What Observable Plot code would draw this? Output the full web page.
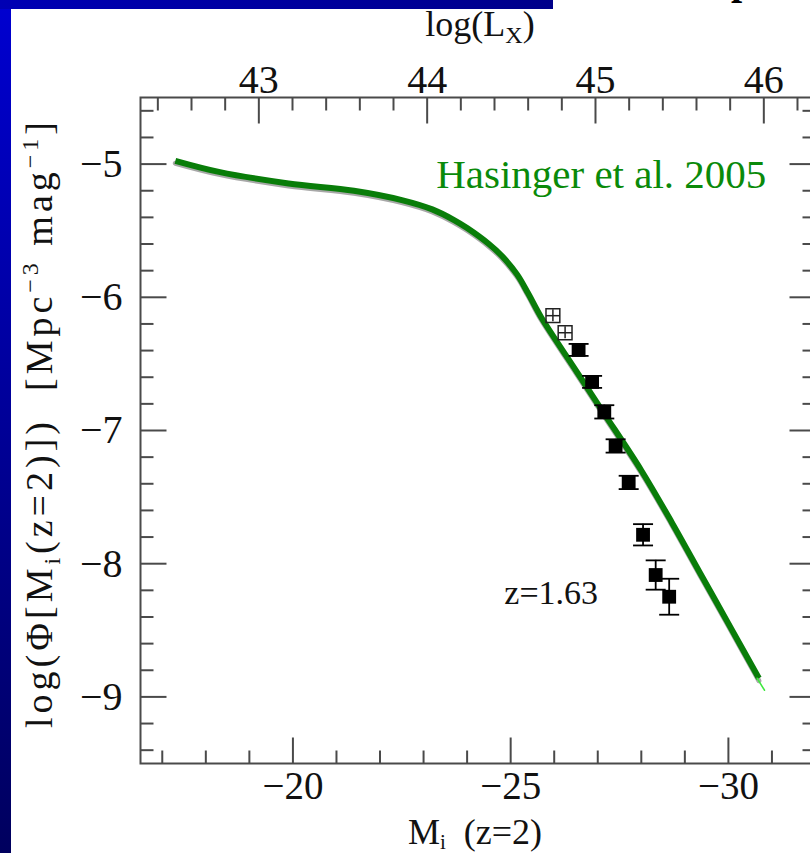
<!DOCTYPE html>
<html><head><meta charset="utf-8">
<script src="https://cdn.jsdelivr.net/npm/d3@7"></script>
<script src="https://cdn.jsdelivr.net/npm/@observablehq/plot@0.6"></script>
<style>
html,body{margin:0;padding:0;background:#fff;}
#wrap{position:relative;width:810px;height:853px;overflow:hidden;background:#fff;}
#wrap svg{position:absolute;left:0;top:0;max-width:none !important;background:transparent !important;}
#leftbar{position:absolute;left:0;top:0;width:11px;height:853px;background:linear-gradient(#0000d0,#00005e);z-index:5;}
#topbar{position:absolute;left:0;top:0;width:553px;height:9px;background:linear-gradient(90deg,#0000b4,#00008a);z-index:5;}
#cut{position:absolute;left:731px;top:-39px;font:bold 40px 'Liberation Serif',serif;color:#000;z-index:4;line-height:1;}
</style></head><body>
<div id="wrap"><div id="leftbar"></div><div id="topbar"></div><div id="cut">p</div></div>
<script>
// ---- data ----
// model curve (Hasinger et al. 2005), x = M_i(z=2), y = log Phi
const curveM   = [-17.3, -18.3, -19.9, -21.4, -22.5, -23.2, -23.7, -24.0, -24.5, -24.8, -25.15, -25.4, -25.7, -26.5, -27.1, -28.0, -28.7, -29.4, -30.0, -30.7];
const curvePhi = [-4.975, -5.058, -5.145, -5.200, -5.27, -5.34, -5.42, -5.48, -5.60, -5.69, -5.83, -5.97, -6.15, -6.55, -6.85, -7.30, -7.69, -8.10, -8.45, -8.86];
// thin bright tip at the end of the curve
const tipM   = [-30.66, -30.83];
const tipPhi = [-8.86, -8.95];
// open squares
const openM   = [-25.97, -26.25];
const openPhi = [-6.138, -6.266];
const openErr = [0.045, 0.045];
// filled squares (z = 1.63)
const filledM   = [-26.56, -26.87, -27.15, -27.41, -27.71, -28.04, -28.33, -28.64];
const filledPhi = [-6.395, -6.635, -6.86, -7.116, -7.39, -7.783, -8.085, -8.248];
const filledErr = [0.045, 0.045, 0.05, 0.05, 0.05, 0.08, 0.11, 0.135];
// axes
const xDomain = [-16.5, -32];
const yDomain = [-9.5, -4.5];
const lxDomain = [42.297, 46.307];
const xMajor = [-20, -25, -30];
const xMinor = [-17, -18, -19, -21, -22, -23, -24, -26, -27, -28, -29, -31];
const yMajor = [-5, -6, -7, -8, -9];
const yMinor = [-4.6, -4.8, -5.2, -5.4, -5.6, -5.8, -6.2, -6.4, -6.6, -6.8, -7.2, -7.4, -7.6, -7.8, -8.2, -8.4, -8.6, -8.8, -9.2, -9.4];
const lxMajor = [43, 44, 45, 46];
const lxMinor = [42.4, 42.6, 42.8, 43.2, 43.4, 43.6, 43.8, 44.2, 44.4, 44.6, 44.8, 45.2, 45.4, 45.6, 45.8, 46.2];
const annotations = [
  {text: "Hasinger et al. 2005", m: -27.08, phi: -5.08, color: "#0a8a0a", size: 41},
  {text: "z=1.63", m: -25.93, phi: -8.218, color: "#111", size: 34}
];

// ---- build ----
const curve = curveM.map((m, i) => ({m, phi: curvePhi[i]}));
const tip = tipM.map((m, i) => ({m, phi: tipPhi[i]}));
const open = openM.map((m, i) => ({m, phi: openPhi[i], err: openErr[i]}));
const filled = filledM.map((m, i) => ({m, phi: filledPhi[i], err: filledErr[i]}));
const lxToM = d3.scaleLinear().domain(lxDomain).range(xDomain);

const serif = "'Liberation Serif','Times New Roman',serif";
const axisColor = "#4a4a4a";
const tickShape = {draw(ctx, l) { ctx.moveTo(0, 0); ctx.lineTo(0, -l); }};
const capSym = {draw(ctx) { ctx.moveTo(-10, 0); ctx.lineTo(10, 0); }};
const midSym = {draw(ctx) { ctx.moveTo(-7, 0); ctx.lineTo(7, 0); }};
const minus = d => (d < 0 ? "\u2212" : "") + Math.abs(d);

const ticks = (data, ch, acc, frameAnchor, rotate, length) =>
  Plot.vector(data, {[ch]: acc, frameAnchor, rotate, length, anchor: "start", shape: tickShape,
    stroke: axisColor, strokeWidth: 2, strokeLinecap: "butt"});

const W = 830, H = 853;
const chart = Plot.plot({
  width: W, height: H,
  marginLeft: 140, marginRight: 15, marginTop: 97, marginBottom: 90,
  style: {background: "transparent", maxWidth: "none", overflow: "visible"},
  x: {domain: xDomain, axis: null},
  y: {domain: yDomain, axis: null},
  marks: [
    // bottom
    ticks(xMajor, "x", d => d, "bottom", 0, 26),
    ticks(xMinor, "x", d => d, "bottom", 0, 13),
    // top (log Lx)
    ticks(lxMajor, "x", d => lxToM(d), "top", 180, 26),
    ticks(lxMinor, "x", d => lxToM(d), "top", 180, 13),
    // left
    ticks(yMajor, "y", d => d, "left", 90, 26),
    ticks(yMinor, "y", d => d, "left", 90, 13),
    // right
    ticks(yMajor, "y", d => d, "right", 270, 26),
    ticks(yMinor, "y", d => d, "right", 270, 13),
    Plot.frame({stroke: axisColor, strokeWidth: 2}),
    Plot.text(xMajor, {x: d => d, frameAnchor: "bottom", dy: 35, text: minus, fontSize: 39, fontFamily: serif, fill: "#111"}),
    Plot.text(lxMajor, {x: d => lxToM(d), frameAnchor: "top", dy: -33, text: d => String(d), fontSize: 40, fontFamily: serif, fill: "#111"}),
    Plot.text(yMajor, {y: d => d, frameAnchor: "left", dx: -18, textAnchor: "end", text: minus, fontSize: 40, fontFamily: serif, fill: "#111"}),
    // model curve
    Plot.line(curve, {x: "m", y: "phi", stroke: "#a8a8a8", strokeWidth: 5, dy: 2.5, curve: "catmull-rom"}),
    Plot.line(curve, {x: "m", y: "phi", stroke: "#097d09", strokeWidth: 6, curve: "catmull-rom", strokeLinecap: "butt"}),
    Plot.line(tip, {x: "m", y: "phi", stroke: "#3fe83f", strokeWidth: 1.5}),
    // error bars
    Plot.ruleX(open, {x: "m", y1: d => d.phi - d.err, y2: d => d.phi + d.err, stroke: "#222", strokeWidth: 1.5}),
    Plot.ruleX(filled, {x: "m", y1: d => d.phi - d.err, y2: d => d.phi + d.err, stroke: "#000", strokeWidth: 1.8}),
    Plot.dot(filled, {x: "m", y: d => d.phi - d.err, symbol: capSym, fill: "none", stroke: "#000", strokeWidth: 1.8}),
    Plot.dot(filled, {x: "m", y: d => d.phi + d.err, symbol: capSym, fill: "none", stroke: "#000", strokeWidth: 1.8}),
    // squares
    Plot.dot(open, {x: "m", y: "phi", symbol: "square", r: 7.8, fill: "none", stroke: "#222", strokeWidth: 1.5}),
    Plot.dot(open, {x: "m", y: "phi", symbol: midSym, fill: "none", stroke: "#222", strokeWidth: 1.5}),
    Plot.dot(filled, {x: "m", y: "phi", symbol: "square", r: 7.8, fill: "#000", stroke: "none"}),
    // annotations
    Plot.text(annotations.slice(0, 1), {x: "m", y: "phi", text: "text", fill: "color", fontSize: d => d.size, fontFamily: serif, textAnchor: "middle"}),
    Plot.text(annotations.slice(1), {x: "m", y: "phi", text: "text", fill: "color", fontSize: d => d.size, fontFamily: serif, textAnchor: "middle", letterSpacing: 1.5})
  ]
});

document.getElementById("wrap").appendChild(chart);

// axis titles with sub/superscripts
const svg = d3.select(chart);
const t1 = svg.append("text").attr("x", 480).attr("y", 36).attr("text-anchor", "middle")
  .attr("font-family", serif).attr("font-size", 36).attr("fill", "#111");
t1.append("tspan").text("log(L");
t1.append("tspan").attr("font-size", 24).attr("dy", 7).text("X");
t1.append("tspan").attr("dy", -7).text(")");

const t2 = svg.append("text").attr("x", 475).attr("y", 844).attr("text-anchor", "middle")
  .attr("font-family", serif).attr("font-size", 36).attr("fill", "#111");
t2.append("tspan").text("M");
t2.append("tspan").attr("font-size", 21).attr("dy", 5).text("i");
t2.append("tspan").attr("dy", -5).text("\u00A0\u00A0(z=2)");

const t3 = svg.append("text").attr("transform", "translate(52,423) rotate(-90)").attr("text-anchor", "middle")
  .attr("font-family", serif).attr("font-size", 38).attr("fill", "#111").attr("letter-spacing", 4);
t3.append("tspan").text("log(\u03A6[M");
t3.append("tspan").attr("font-size", 24).attr("dy", 8).text("i");
t3.append("tspan").attr("dy", -8).text("(z=2)])\u00A0\u00A0[Mpc");
t3.append("tspan").attr("font-size", 24).attr("dy", -14).text("\u22123");
t3.append("tspan").attr("dy", 14).text("\u00A0mag");
t3.append("tspan").attr("font-size", 24).attr("dy", -14).text("\u22121");
t3.append("tspan").attr("dy", 14).text("]");
</script>
</body></html>
